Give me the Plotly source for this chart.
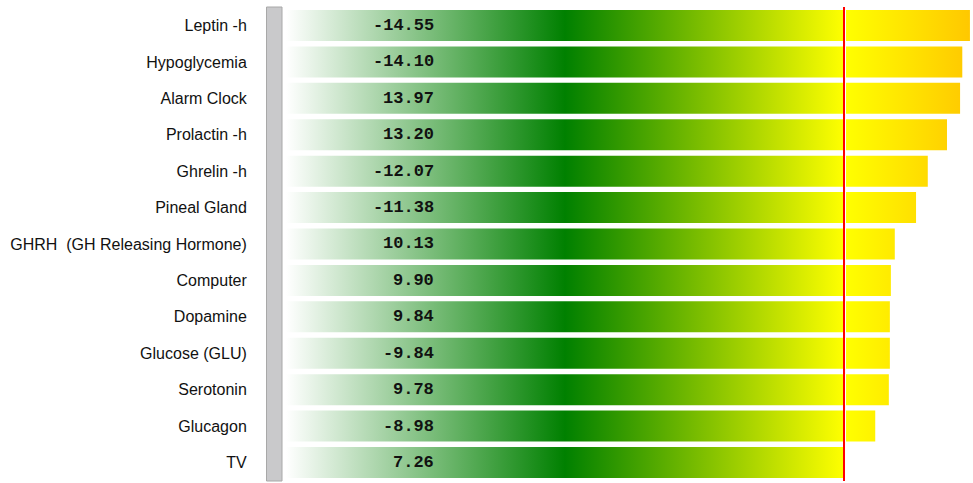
import plotly.graph_objects as go

# ---- data ----
categories = ["Leptin -h", "Hypoglycemia", "Alarm Clock", "Prolactin -h", "Ghrelin -h",
              "Pineal Gland", "GHRH\u00a0 (GH Releasing Hormone)", "Computer", "Dopamine",
              "Glucose (GLU)", "Serotonin", "Glucagon", "TV"]
values = [-14.55, -14.10, 13.97, 13.20, -12.07, -11.38, 10.13, 9.90, 9.84, -9.84, 9.78, -8.98, 7.26]
threshold = 7.26
right_axis_max = 14.73

# ---- layout constants ----
W, H = 973, 483
bar_half = 0.425
left_scale = [[0, "rgb(255,255,255)"], [0.5, "rgb(0,128,0)"], [1, "rgb(255,255,0)"]]
right_scale = [[0, "rgb(255,255,0)"], [1, "rgb(255,200,0)"]]

fig = go.Figure()

for i, v in enumerate(values):
    a = abs(v)
    y0, y1 = i - bar_half, i + bar_half
    # base part (up to threshold)
    xe = min(a, threshold)
    fig.add_trace(go.Scatter(
        x=[0, xe, xe, 0, 0], y=[y0, y0, y1, y1, y0],
        xaxis="x", yaxis="y", mode="lines", fill="toself",
        line=dict(width=0, color="rgba(0,0,0,0)"),
        fillgradient=dict(type="horizontal", colorscale=left_scale, start=0, stop=threshold),
        hoverinfo="skip", showlegend=False))
    # excess part (beyond threshold)
    if a > threshold:
        fig.add_trace(go.Scatter(
            x=[threshold, a, a, threshold, threshold], y=[y0, y0, y1, y1, y0],
            xaxis="x2", yaxis="y", mode="lines", fill="toself",
            line=dict(width=0, color="rgba(0,0,0,0)"),
            fillgradient=dict(type="horizontal", colorscale=right_scale,
                              start=threshold, stop=max(abs(x) for x in values)),
            hoverinfo="skip", showlegend=False))

# value labels
for i, v in enumerate(values):
    fig.add_annotation(x=436 / W, xref="paper", y=i, yref="y", xanchor="right", yanchor="middle",
                       text=f"{v:.2f}", showarrow=False,
                       font=dict(family="Liberation Mono", size=17, color="#111", weight="bold"))

ydom = [1 - 480.7 / H, 1 - 7.3 / H]
fig.update_layout(
    width=W, height=H,
    margin=dict(l=0, r=0, t=0, b=0),
    paper_bgcolor="white", plot_bgcolor="white",
    xaxis=dict(domain=[286 / W, 844 / W], range=[0, threshold], visible=False, fixedrange=True),
    xaxis2=dict(domain=[846 / W, 1], range=[threshold, right_axis_max], visible=False,
                anchor="y", fixedrange=True),
    yaxis=dict(domain=ydom, range=[len(values) - 0.5, -0.5], tickvals=list(range(len(categories))),
               ticktext=categories, showgrid=False, zeroline=False, showline=False,
               ticks="outside", ticklen=35, tickcolor="rgba(0,0,0,0)",
               tickfont=dict(family="Liberation Sans", size=16, color="#111"),
               automargin=False, fixedrange=True),
    shapes=[
        dict(type="rect", xref="paper", yref="paper", x0=266.5 / W, x1=282 / W,
             y0=1 - 481 / H, y1=1 - 7 / H, fillcolor="#c9c9cb",
             line=dict(color="#a8a8a8", width=1), layer="above"),
        dict(type="line", xref="paper", yref="paper", x0=844 / W, x1=844 / W,
             y0=1 - 481 / H, y1=1 - 7 / H, line=dict(color="#ff0000", width=2), layer="above"),
    ],
)

fig.write_html("out.html", config={"displayModeBar": False},
               post_script="document.body.style.margin='0';document.body.style.overflow='hidden';")
